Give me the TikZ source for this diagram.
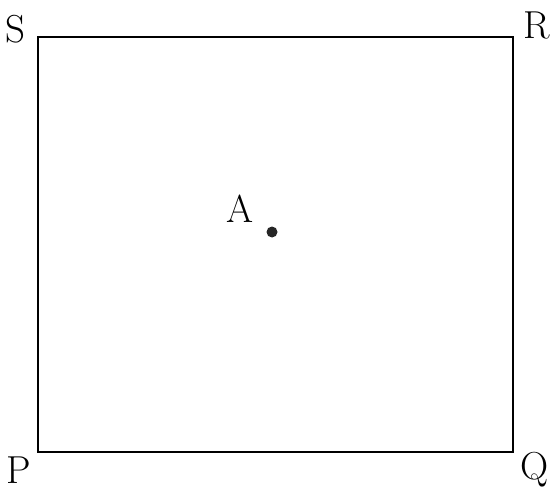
\documentclass[tikz,border=0pt]{standalone}
\begin{document}
\begin{tikzpicture}[x=1pt,y=-1pt,
  lbl/.style={font=\fontsize{39}{43}\selectfont, inner sep=0pt},
  side/.style={line width=2pt}]
\useasboundingbox (0,0) rectangle (554,492);
\coordinate (Pc) at (38,452);
\coordinate (Qc) at (513,452);
\coordinate (Rc) at (513,37);
\coordinate (Sc) at (38,37);
\draw[side] (Pc) -- (Qc) -- (Rc) -- (Sc) -- cycle;
\node[circle, fill=black!85, inner sep=0pt, minimum size=11pt] (Ad) at (272,232) {};
\node[lbl] (A) at (240,209) {A};
\node[lbl] (S) at (15,29) {S};
\node[lbl] (R) at (537,25) {R};
\node[lbl] (P) at (19,470) {P};
\node[lbl] (Q) at (535,470) {Q};
\end{tikzpicture}
\end{document}
